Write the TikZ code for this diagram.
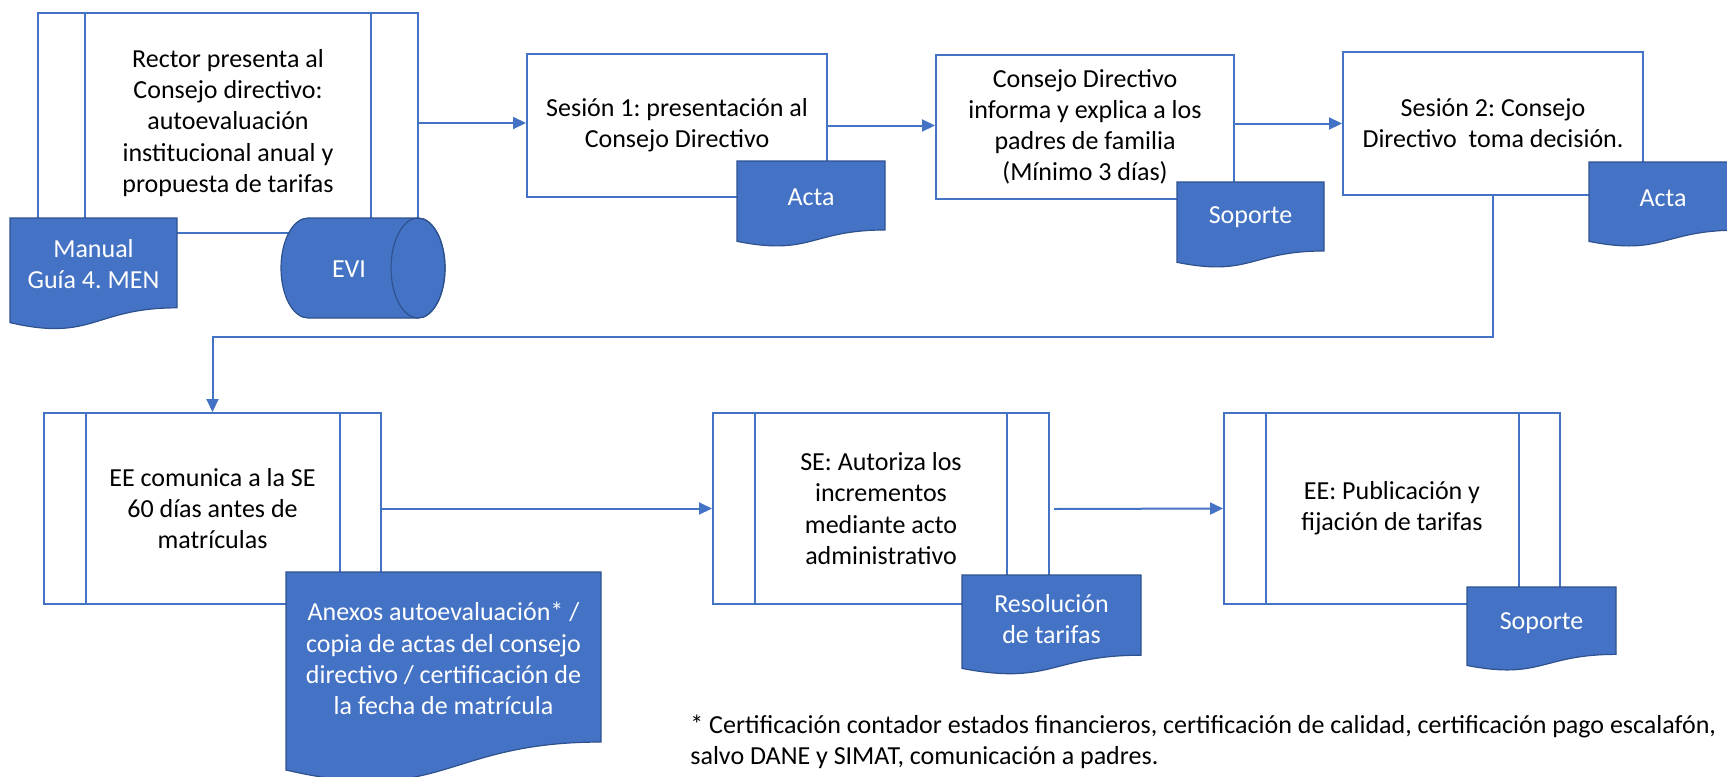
\documentclass[tikz,border=0pt]{standalone}
\usepackage{fontspec}
\setmainfont{Carlito}
\frenchspacing
\usetikzlibrary{arrows.meta}
\definecolor{oblue}{HTML}{4472C4}
\definecolor{odark}{HTML}{2F528F}
\newcommand\fs{\fontsize{13pt}{15.6pt}\selectfont\frenchspacing}
\tikzset{
  proc/.style={draw=oblue, line width=1pt, fill=white, align=center, text=black, font=\fs, inner sep=0pt},
  doctext/.style={text=white, align=center, font=\fs, inner sep=0pt},
  docfill/.style={fill=oblue, draw=odark, line width=0.6pt},
  arr/.style={draw=oblue, line width=1pt, -{Triangle[length=6.5pt,width=6pt]}},
  link/.style={draw=oblue, line width=1pt},
}
\newcommand\flowdoc[7]{%
  \path[docfill] (#2,#3) -- (#4,#3) -- (#4,{#3+0.802*(#5-#3)})
    .. controls ({(#2+#4)/2},{#3+0.802*(#5-#3)}) and ({(#2+#4)/2},{#3+1.107*(#5-#3)}) .. (#2,{#3+0.934*(#5-#3)}) -- cycle;
  \node[doctext] (#1) at ({(#2+#4)/2},#6) {#7};}
\begin{document}
\begin{tikzpicture}[x=0.5pt,y=-0.5pt]
\useasboundingbox (0,0) rectangle (1727,776);
% process boxes
\node[proc, minimum width=190pt, minimum height=110pt] (b1) at (228,123)
  {Rector presenta al\\Consejo directivo:\\autoevaluación\\institucional anual y\\propuesta de tarifas};
\draw[link] ([xshift=24pt]b1.north west) -- ([xshift=24pt]b1.south west);
\draw[link] ([xshift=-24pt]b1.north east) -- ([xshift=-24pt]b1.south east);
\node[proc, minimum width=150pt, minimum height=71.5pt] (b2) at (677,125.5)
  {Sesión 1: presentación al\\Consejo Directivo};
\node[proc, minimum width=149pt, minimum height=72pt] (b3) at (1085,127)
  {Consejo Directivo\\informa y explica a los\\padres de familia\\(Mínimo 3 días)};
\node[proc, minimum width=150pt, minimum height=71.5pt] (b4) at (1493,123.5)
  {Sesión 2: Consejo\\Directivo\ \ toma decisión.};
\node[proc, minimum width=168.5pt, minimum height=95.5pt] (b5) at (212.5,508.5)
  {EE comunica a la SE\\60 días antes de\\matrículas};
\draw[link] ([xshift=21.5pt]b5.north west) -- ([xshift=21.5pt]b5.south west);
\draw[link] ([xshift=-21pt]b5.north east) -- ([xshift=-21pt]b5.south east);
\node[proc, minimum width=168pt, minimum height=95.5pt] (b6) at (881,508.5)
  {SE: Autoriza los\\incrementos\\mediante acto\\administrativo};
\draw[link] ([xshift=21.5pt]b6.north west) -- ([xshift=21.5pt]b6.south west);
\draw[link] ([xshift=-21.5pt]b6.north east) -- ([xshift=-21.5pt]b6.south east);
\node[proc, minimum width=168pt, minimum height=95.5pt] (b7) at (1392,508.5)
  {EE: Publicación y\\fijación de tarifas};
\draw[link] ([xshift=21.5pt]b7.north west) -- ([xshift=21.5pt]b7.south west);
\draw[link] ([xshift=-21pt]b7.north east) -- ([xshift=-21pt]b7.south east);
% connectors
\coordinate (turn) at (0,337);
\coordinate (s67) at (1054,509);
\draw[arr] (b1.east) -- (b1.east -| b2.west);
\draw[arr] (b2.east) -- (b2.east -| b3.west);
\draw[arr] (b3.east |- b4.west) -- (b4.west);
\draw[arr] (b4.south) -- (b4.south |- turn) -| (b5.north);
\draw[arr] (b5.east) -- (b5.east -| b6.west);
\draw[arr] (s67) -- (b7.west);
% documents
\flowdoc{manual}{10}{218}{177}{330}{264}{Manual\\Guía 4. MEN}
\path[docfill] (308,218) -- (418,218) arc[start angle=-90, end angle=90, x radius=27, y radius=50]
  -- (308,318) arc[start angle=90, end angle=270, x radius=27, y radius=50] -- cycle;
\draw[odark, line width=0.6pt] (418,268) ellipse [x radius=27, y radius=50];
\node[doctext] (evi) at (349,269) {EVI};
\flowdoc{acta1}{737}{161}{885}{247}{197}{Acta}
\flowdoc{soporte1}{1177}{182}{1324}{268}{217}{Soporte}
\flowdoc{acta2}{1589}{162}{1737}{247}{198}{Acta}
\flowdoc{anexos}{286}{572}{601}{784}{658.5}{Anexos autoevaluación* /\\copia de actas del consejo\\directivo / certificación de\\la fecha de matrícula}
\flowdoc{resol}{962}{575}{1141}{675}{619}{Resolución\\de tarifas}
\flowdoc{soporte2}{1467}{587}{1616}{671}{623}{Soporte}
% footnote
\node[anchor=west, align=left, font=\fs, inner sep=0pt] (fn) at (690,742)
  {* Certificación contador estados financieros, certificación de calidad, certificación pago escalafón,\\salvo DANE y SIMAT, comunicación a padres.};
\end{tikzpicture}
\end{document}
